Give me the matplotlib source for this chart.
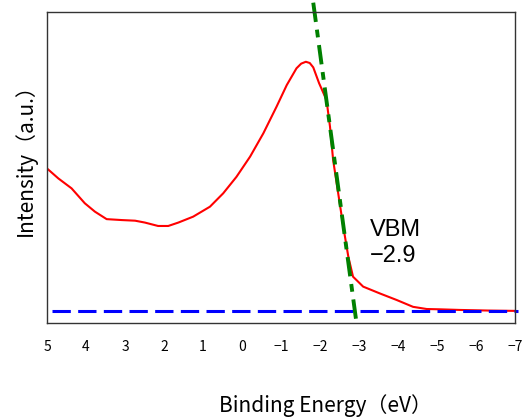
import numpy as np
import matplotlib.pyplot as plt

# UPS spectrum near valence band edge (normalised intensity)
binding_energy = [5.0, 4.71, 4.37, 4.03, 3.77, 3.47, 3.08, 2.74, 2.49, 2.15,
                  1.89, 1.63, 1.25, 0.82, 0.48, 0.14, -0.21, -0.55, -0.89,
                  -1.15, -1.40, -1.52, -1.64, -1.74, -1.83, -1.98, -2.17,
                  -2.26, -2.34, -2.47, -2.60, -2.73, -2.85, -3.11, -3.54,
                  -3.97, -4.39, -4.74, -5.08, -5.59, -6.36, -7.0]
intensity = [0.497, 0.465, 0.433, 0.385, 0.358, 0.334, 0.331, 0.329, 0.323,
             0.312, 0.312, 0.323, 0.342, 0.374, 0.417, 0.470, 0.535, 0.610,
             0.696, 0.765, 0.819, 0.834, 0.840, 0.836, 0.822, 0.771, 0.717,
             0.631, 0.524, 0.417, 0.310, 0.213, 0.149, 0.117, 0.095, 0.074,
             0.052, 0.045, 0.044, 0.042, 0.040, 0.039]

# linear fit of the leading edge and the background level
fit_x = [-1.83, -2.95]
fit_y = [1.03, -0.01]
base_x = [4.87, -7.08]
base_y = [0.039, 0.039]

xticks = [5, 4, 3, 2, 1, 0, -1, -2, -3, -4, -5, -6, -7]
vbm = -2.9

fig = plt.figure(figsize=(5.28, 4.17), dpi=100)
ax = fig.add_axes([0.089, 0.2254, 0.886, 0.7458])

ax.plot(binding_energy, intensity, color='red', lw=1.5,
        solid_joinstyle='round')
ax.plot(base_x, base_y, color='blue', lw=2.2, dashes=(6, 2.4), clip_on=False)
ax.plot(fit_x, fit_y, color='green', lw=2.8, dashes=(5, 2, 2, 2), clip_on=False)

ax.text(-3.28, 0.258, 'VBM\n' + f'{vbm:.1f}'.replace('-', '\u2212'),
        fontsize=17, family='Liberation Sans', ha='left', va='center',
        linespacing=1.25)

ax.set_xlim(5, -7)
ax.set_ylim(0, 1)
ax.set_xticks(xticks)
ax.set_xticklabels([str(t).replace('-', '\u2212') for t in xticks],
                   family=['Noto Sans CJK JP', 'DejaVu Sans'], fontsize=10)
ax.set_yticks([])
ax.tick_params(axis='x', length=0, pad=12)
for s in ax.spines.values():
    s.set_linewidth(1.0)
    s.set_color('#333333')

fig.text(325 / 528, 1 - 406 / 417, 'Binding Energy（eV）', ha='center', va='center',
         fontsize=15, family=['Noto Sans CJK JP', 'DejaVu Sans'])
fig.text(25 / 528, 1 - 155 / 417, 'Intensity（a.u.）', ha='center', va='center',
         rotation=90, fontsize=15, family=['Noto Sans CJK JP', 'DejaVu Sans'])

fig.savefig('out.png', dpi=100)
